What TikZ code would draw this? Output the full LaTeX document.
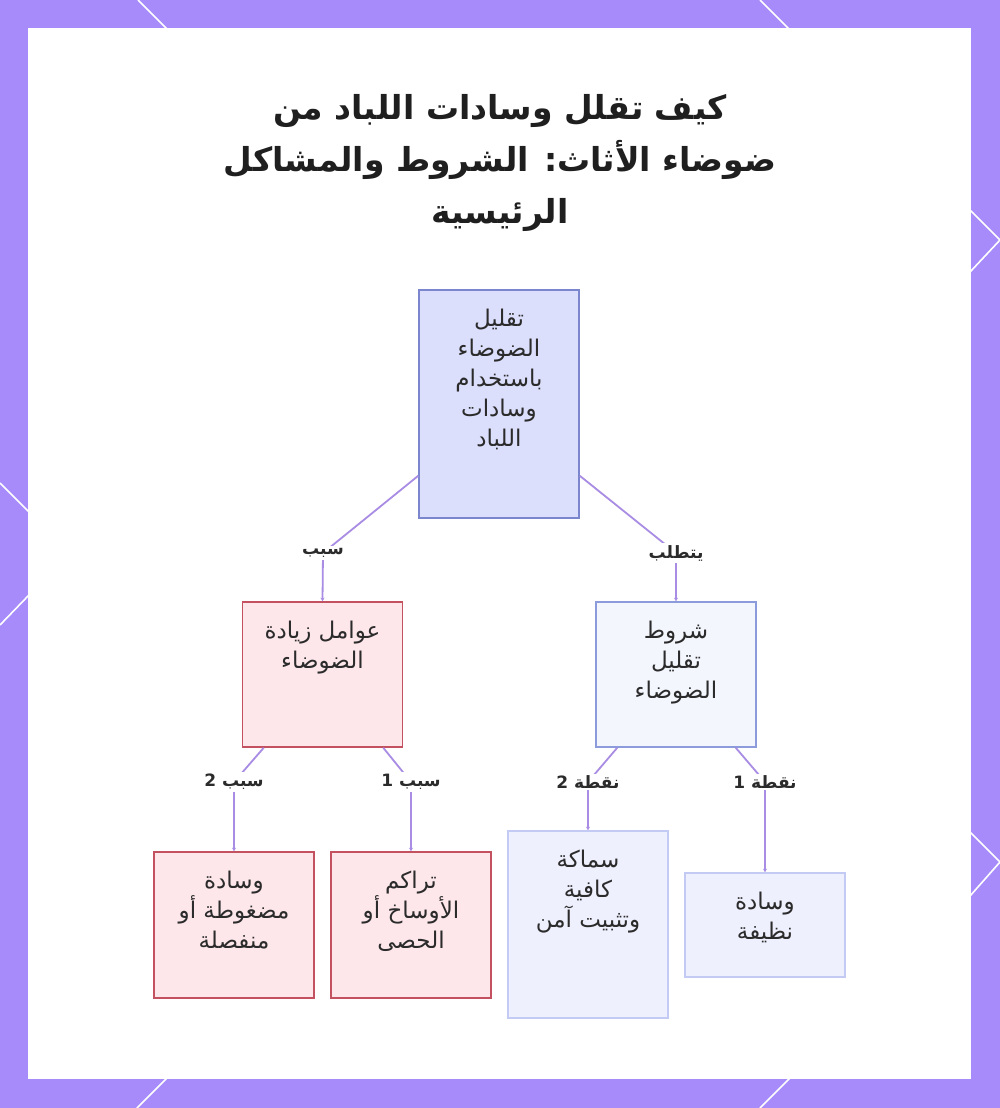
\documentclass[tikz,border=0pt]{standalone}
\usepackage{fontspec}
\usetikzlibrary{arrows.meta}
\newfontfamily\arabicfont[Script=Arabic]{DejaVu Sans}
\TeXXeTstate=1
\newcommand\rtl[1]{\beginR#1\endR}
\definecolor{framepurple}{HTML}{A78BFA}
\definecolor{conncol}{HTML}{A98CE4}
\definecolor{topfill}{HTML}{DCDFFC}
\definecolor{topdraw}{HTML}{7C86CF}
\definecolor{redfill}{HTML}{FDE7EB}
\definecolor{reddraw}{HTML}{C4515F}
\definecolor{bluefill}{HTML}{F4F6FE}
\definecolor{bluedraw}{HTML}{8B9BDB}
\definecolor{pfill}{HTML}{EEF0FD}
\definecolor{pdraw}{HTML}{C3CAF4}
\definecolor{txt}{HTML}{2B2B2B}
\tikzset{
  box/.style={draw, line width=1.6pt, minimum width=160pt, inner sep=0pt},
  topbox/.style={box, fill=topfill, draw=topdraw},
  redbox/.style={box, fill=redfill, draw=reddraw},
  bluebox/.style={box, fill=bluefill, draw=bluedraw},
  palebox/.style={box, fill=pfill, draw=pdraw},
  boxtext/.style={anchor=north, inner sep=0pt, align=center, text=txt,
    font=\arabicfont\fontsize{23}{30}\selectfont},
  conn/.style={draw=conncol, line width=1.8pt, -{Stealth[length=3.5pt,width=4pt]}},
  elabel/.style={inner sep=2pt, fill=white, text=txt,
    font=\arabicfont\bfseries\fontsize{17}{20}\selectfont},
  deco/.style={draw=white, line width=1.6pt},
}
\begin{document}
\begin{tikzpicture}[x=1pt,y=-1pt]
\useasboundingbox (0,0) rectangle (1000,1108);
\fill[framepurple] (0,0) rectangle (1000,1108);
% decorative white strokes on the frame
\draw[deco] (138,0) -- (167,29);
\draw[deco] (760,0) -- (789,29);
\draw[deco] (970,210) -- (1000,240) -- (970,272);
\draw[deco] (970,832) -- (1000,862) -- (970,896);
\draw[deco] (0,483) -- (29,512);
\draw[deco] (29,595) -- (0,625);
\draw[deco] (167,1078) -- (137,1108);
\draw[deco] (790,1078) -- (760,1108);
% panel
\fill[white] (28,28) rectangle (971,1079);

% title
\node[align=center, text=black!88, font=\arabicfont\bfseries\fontsize{33}{52}\selectfont] (title) at (500,163)
  {\rtl{كيف تقلل وسادات اللباد من}\\\rtl{ضوضاء الأثاث: الشروط والمشاكل}\\\rtl{الرئيسية}};

% boxes
\node[topbox, minimum height=228pt] (n0) at (499,404) {};
\node[redbox, minimum height=145pt] (n1) at (322.5,674.5) {};
\node[bluebox, minimum height=145pt] (n2) at (676,674.5) {};
\node[redbox, minimum height=146pt] (n3) at (234,925) {};
\node[redbox, minimum height=146pt] (n4) at (411,925) {};
\node[palebox, minimum height=187pt] (n5) at (588,924.5) {};
\node[palebox, minimum height=104pt] (n6) at (765,925) {};

% box texts
\node[boxtext, yshift=-20pt] (t0) at (n0.north) {\rtl{تقليل}\\\rtl{الضوضاء}\\\rtl{باستخدام}\\\rtl{وسادات}\\\rtl{اللباد}};
\node[boxtext, yshift=-20pt] (t1) at (n1.north) {\rtl{عوامل زيادة}\\\rtl{الضوضاء}};
\node[boxtext, yshift=-20pt] (t2) at (n2.north) {\rtl{شروط}\\\rtl{تقليل}\\\rtl{الضوضاء}};
\node[boxtext, yshift=-20pt] (t3) at (n3.north) {\rtl{وسادة}\\\rtl{مضغوطة أو}\\\rtl{منفصلة}};
\node[boxtext, yshift=-20pt] (t4) at (n4.north) {\rtl{تراكم}\\\rtl{الأوساخ أو}\\\rtl{الحصى}};
\node[boxtext, yshift=-20pt] (t5) at (n5.north) {\rtl{سماكة}\\\rtl{كافية}\\\rtl{وتثبيت آمن}};
\node[boxtext, yshift=-20pt] (t6) at (n6.north) {\rtl{وسادة}\\\rtl{نظيفة}};

% label positions
\coordinate (c1) at (323,553);
\coordinate (c2) at (676,553);
\coordinate (c3) at (234,782);
\coordinate (c4) at (411,782);
\coordinate (c5) at (588,782);
\coordinate (c6) at (765,782);

% connectors
\draw[conn] ([yshift=43pt]n0.south west) -- (c1) -- (n1.north);
\draw[conn] ([yshift=43pt]n0.south east) -- (c2) -- (n2.north);
\draw[conn] ([xshift=22pt]n1.south west) -- (c3) -- (n3.north);
\draw[conn] ([xshift=-20pt]n1.south east) -- (c4) -- (n4.north);
\draw[conn] ([xshift=22pt]n2.south west) -- (c5) -- (n5.north);
\draw[conn] ([xshift=-21pt]n2.south east) -- (c6) -- (n6.north);

% connector labels
\node[elabel] (l1) at (c1) {\rtl{سبب}};
\node[elabel] (l2) at (c2) {\rtl{يتطلب}};
\node[elabel] (l3) at (c3) {\rtl{سبب 2}};
\node[elabel] (l4) at (c4) {\rtl{سبب 1}};
\node[elabel] (l5) at (c5) {\rtl{نقطة 2}};
\node[elabel] (l6) at (c6) {\rtl{نقطة 1}};
\end{tikzpicture}
\end{document}
